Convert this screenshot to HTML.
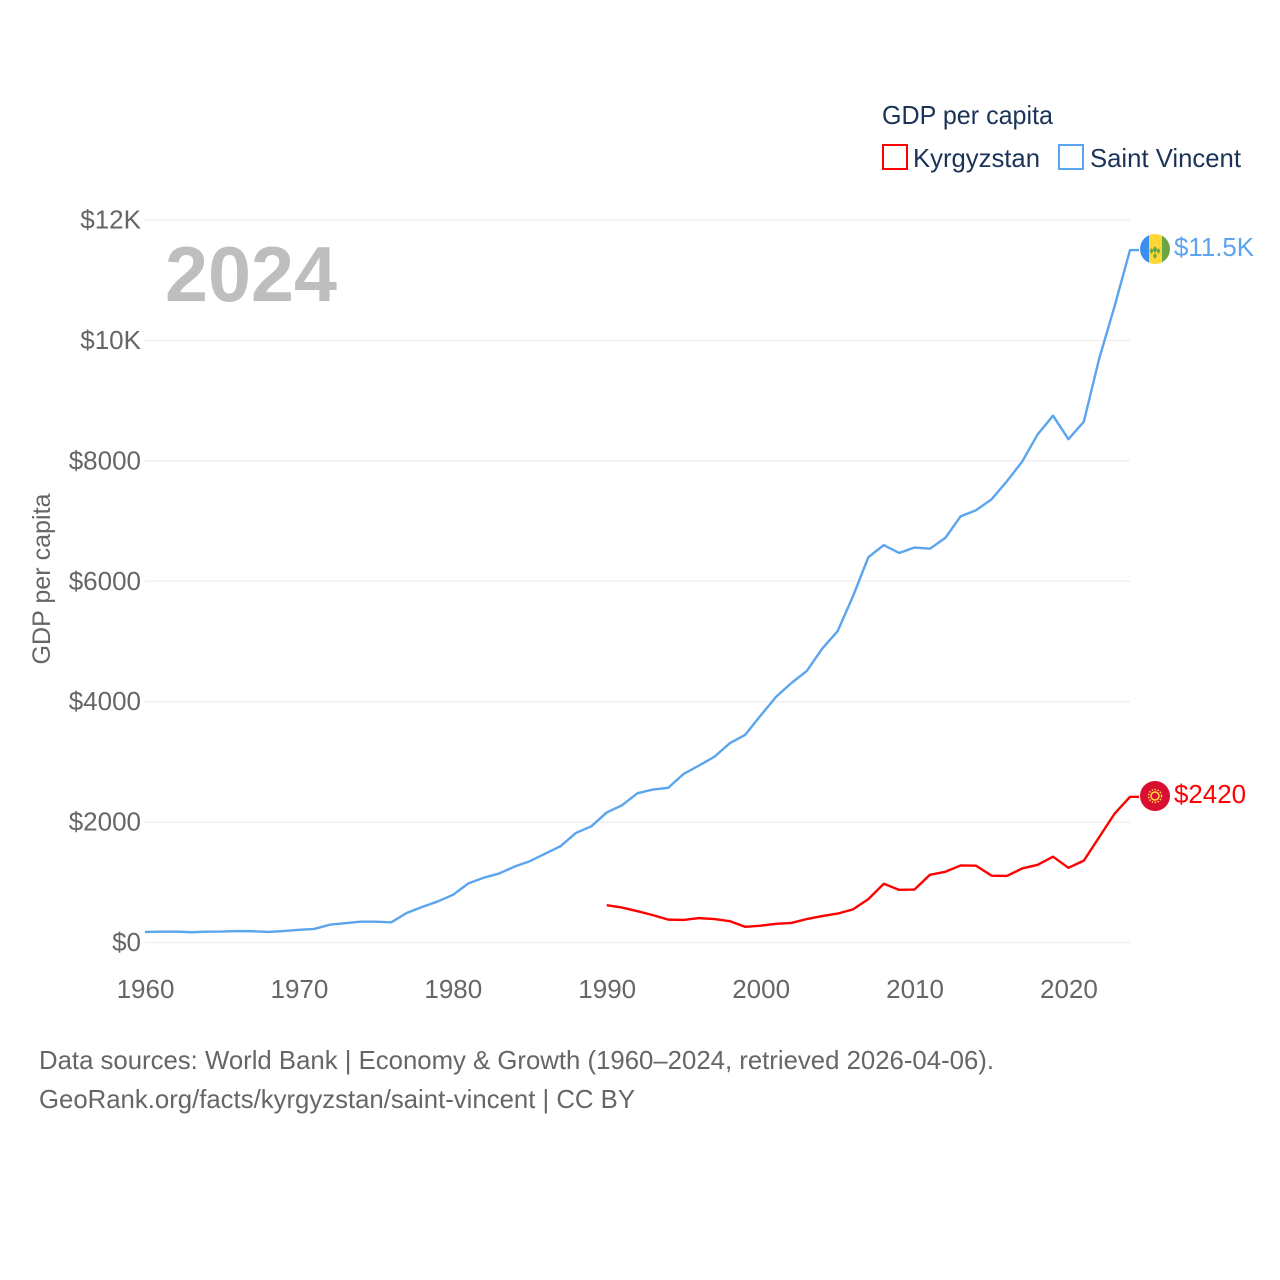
<!DOCTYPE html>
<html>
<head>
<meta charset="utf-8">
<title>GDP per capita: Kyrgyzstan and Saint Vincent</title>
<style>
html,body{margin:0;padding:0;background:#fff;}
svg{display:block;}
text{font-family:"Liberation Sans",sans-serif;}
</style>
</head>
<body>
<svg id="chart" width="1280" height="1280" viewBox="0 0 1280 1280" xmlns="http://www.w3.org/2000/svg">
  <rect width="1280" height="1280" fill="#ffffff"/>
  <g id="grid"></g>
  <g id="yticks"></g>
  <g id="xticks"></g>
  <text x="165" y="301" font-size="78" font-weight="700" fill="#bebebe" textLength="172" lengthAdjust="spacingAndGlyphs">2024</text>
  <text transform="translate(50,579) rotate(-90)" text-anchor="middle" font-size="25" fill="#666666" textLength="171" lengthAdjust="spacingAndGlyphs">GDP per capita</text>
  <g id="series"></g>

  <g>
    <text x="882" y="124" font-size="26" fill="#1b3356" textLength="171" lengthAdjust="spacingAndGlyphs">GDP per capita</text>
    <g>
      <rect x="883" y="145" width="24" height="24" fill="#ffffff" stroke="#ff0000" stroke-width="2"/>
      <text x="913" y="167" font-size="26" fill="#1b3356" textLength="127" lengthAdjust="spacingAndGlyphs">Kyrgyzstan</text>
    </g>
    <g>
      <rect x="1059" y="145" width="24" height="24" fill="#ffffff" stroke="#5ba4ee" stroke-width="2"/>
      <text x="1090" y="167" font-size="26" fill="#1b3356" textLength="151" lengthAdjust="spacingAndGlyphs">Saint Vincent</text>
    </g>
  </g>

  <defs>
    <clipPath id="clip-sv"><circle cx="1155" cy="249" r="15"/></clipPath>
  </defs>
  <g clip-path="url(#clip-sv)">
    <rect x="1140" y="234" width="9" height="30" fill="#3b8ff0"/>
    <rect x="1149" y="234" width="13" height="30" fill="#fdd835"/>
    <rect x="1162" y="234" width="8" height="30" fill="#6da544"/>
    <path d="M1155 246l2.400 3.500-2.400 3.500-2.400-3.500zM1151.500 248l2 3-2 3-2-3zM1158.500 248l2 3-2 3-2-3zM1155 253l2 3-2 3-2-3z" fill="#6da544"/>
  </g>
  <g>
    <circle cx="1155" cy="796" r="15" fill="#d80f31"/>
    <circle cx="1155" cy="796" r="4" fill="none" stroke="#ffda44" stroke-width="1.500"/>
    <circle cx="1155" cy="796" r="6.500" fill="none" stroke="#ffda44" stroke-width="1.500" stroke-dasharray="1.500 1.500"/>
  </g>
  <text id="label-sv" x="1174" y="256" font-size="26" fill="#5ba4ee" textLength="80" lengthAdjust="spacingAndGlyphs">$11.5K</text>
  <text id="label-kg" x="1174" y="803" font-size="26" fill="#ff0000" textLength="72" lengthAdjust="spacingAndGlyphs">$2420</text>

  <g>
    <text x="39" y="1069" font-size="26" fill="#666666" textLength="955" lengthAdjust="spacingAndGlyphs">Data sources: World Bank | Economy &amp; Growth (1960–2024, retrieved 2026-04-06).</text>
    <text x="39" y="1108" font-size="26" fill="#666666" textLength="596" lengthAdjust="spacingAndGlyphs">GeoRank.org/facts/kyrgyzstan/saint-vincent | CC BY</text>
  </g>
</svg>
<script>
var yTickValues = [0, 2000, 4000, 6000, 8000, 10000, 12000];
var yTickLabels = ["$0", "$2000", "$4000", "$6000", "$8000", "$10K", "$12K"];
var xTickYears = [1960, 1970, 1980, 1990, 2000, 2010, 2020];
var saintVincentStartYear = 1960;
var saintVincentValues = [175, 180, 182, 170, 180, 182, 190, 187, 175, 190, 210, 225, 295, 320, 345, 345, 335, 490, 590, 680, 790, 980, 1075, 1145, 1260, 1350, 1475, 1600, 1820, 1930, 2160, 2280, 2480, 2540, 2570, 2800, 2940, 3085, 3310, 3450, 3770, 4080, 4310, 4510, 4880, 5170, 5750, 6400, 6600, 6470, 6560, 6540, 6720, 7080, 7180, 7360, 7660, 7990, 8440, 8750, 8360, 8650, 9700, 10570, 11500];
var kyrgyzstanStartYear = 1990;
var kyrgyzstanValues = [620, 580, 520, 455, 380, 375, 405, 390, 355, 260, 280, 310, 325, 390, 440, 480, 550, 720, 975, 875, 880, 1125, 1175, 1280, 1275, 1110, 1105, 1230, 1290, 1425, 1240, 1360, 1750, 2140, 2420];

var NS = 'http://www.w3.org/2000/svg';
var plotLeft = 145, plotRight = 1130;
var yearMin = 1960, yearMax = 2024;
var y0 = 942.5, y12k = 220, yMax = 12000;

function xScale(year) {
  return plotLeft + (year - yearMin) / (yearMax - yearMin) * (plotRight - plotLeft);
}
function yScale(value) {
  return y0 - value / yMax * (y0 - y12k);
}
function make(tag, attrs, parent, txt) {
  var el = document.createElementNS(NS, tag);
  for (var k in attrs) { el.setAttribute(k, attrs[k]); }
  if (txt !== undefined) { el.textContent = txt; }
  parent.appendChild(el);
  return el;
}

var grid = document.getElementById('grid');
var yticks = document.getElementById('yticks');
var xticks = document.getElementById('xticks');
var series = document.getElementById('series');

yTickValues.forEach(function (v, i) {
  var line = make('line', {x1: plotLeft, x2: plotRight, y1: yScale(v), y2: yScale(v), stroke: '#eeeeee', 'stroke-width': 1.3}, grid);
  
  
  var label = make('text', {x: 141, y: yScale(v) + 8.5, 'text-anchor': 'end', 'font-size': 26, fill: '#666666'}, yticks, yTickLabels[i]);
  
  
});

xTickYears.forEach(function (yr) {
  var label = make('text', {x: xScale(yr) + 0.5, y: 998, 'text-anchor': 'middle', 'font-size': 26, fill: '#666666'}, xticks, String(yr));
  
  
});

function linePoints(startYear, values) {
  var pts = values.map(function (v, i) {
    return xScale(startYear + i).toFixed(2) + ',' + yScale(v).toFixed(2);
  });
  var last = values[values.length - 1];
  pts.push((plotRight + 9) + ',' + yScale(last).toFixed(2));
  return pts.join(' ');
}

var blue = make('polyline', {points: linePoints(saintVincentStartYear, saintVincentValues), fill: 'none', stroke: '#5ba4ee', 'stroke-width': 2.4, 'stroke-linejoin': 'round'}, series);



var red = make('polyline', {points: linePoints(kyrgyzstanStartYear, kyrgyzstanValues), fill: 'none', stroke: '#ff0000', 'stroke-width': 2.4, 'stroke-linejoin': 'round'}, series);


</script>
</body>
</html>
